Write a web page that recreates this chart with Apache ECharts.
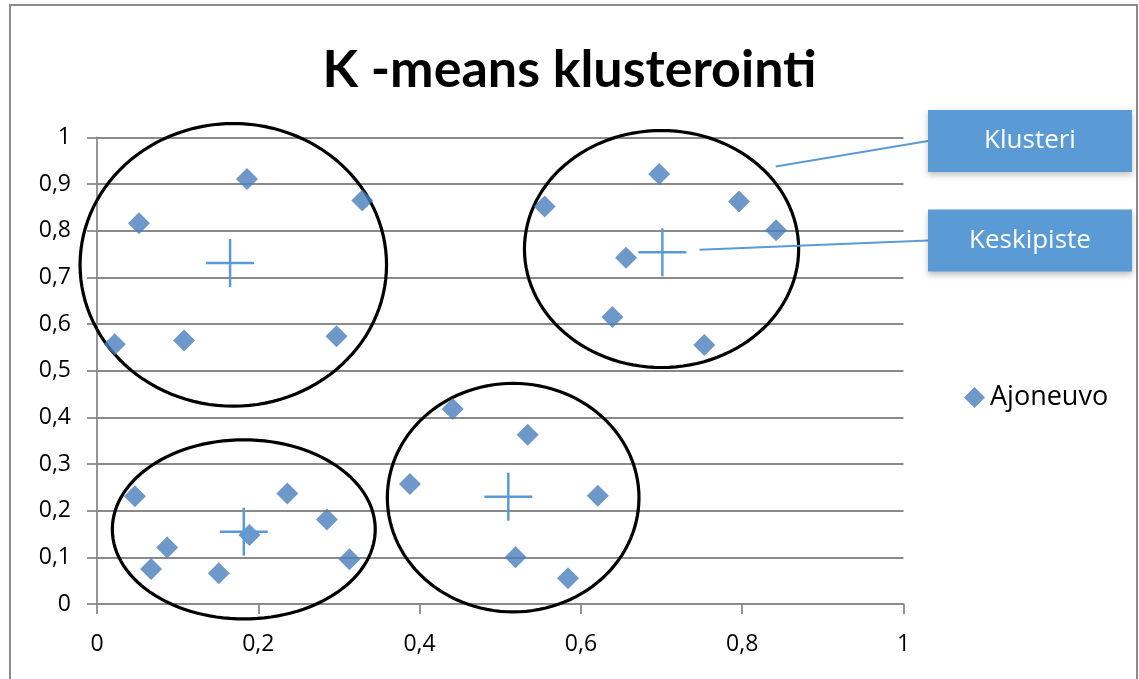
<!DOCTYPE html>
<html>
<head>
<meta charset="utf-8">
<script src="https://cdn.jsdelivr.net/npm/echarts@6/dist/echarts.min.js"></script>
<style>html,body{margin:0;padding:0;background:#fff;}#c{width:1139px;height:679px;}</style>
</head>
<body>
<div id="c"></div>
<script>
// ---- data ----
const pointX = [0.022,0.052,0.108,0.186,0.297,0.329, 0.555,0.697,0.796,0.842,0.656,0.639,0.753, 0.047,0.067,0.087,0.151,0.189,0.236,0.285,0.313, 0.441,0.534,0.388,0.621,0.519,0.584];
const pointY = [0.557,0.816,0.565,0.911,0.574,0.865, 0.852,0.922,0.863,0.801,0.742,0.615,0.555, 0.231,0.075,0.121,0.066,0.148,0.237,0.181,0.096, 0.418,0.363,0.257,0.232,0.100,0.055];
const centerX = [0.165,0.701,0.182,0.510];
const centerY = [0.731,0.754,0.155,0.230];
const clusterCX = [0.169,0.700,0.182,0.516];
const clusterCY = [0.727,0.761,0.160,0.228];
const clusterRX = [0.190,0.170,0.163,0.156];
const clusterRY = [0.303,0.254,0.192,0.245];
const xTicks = [0,0.2,0.4,0.6,0.8,1];
const yTicks = [0,0.1,0.2,0.3,0.4,0.5,0.6,0.7,0.8,0.9,1];
const titleText = 'K -means klusterointi';
const seriesName = 'Ajoneuvo';
const calloutLabels = ['Klusteri','Keskipiste'];

const points = pointX.map((x,i)=>[x,pointY[i]]);
const centers = centerX.map((x,i)=>[x,centerY[i]]);
const clusters = clusterCX.map((x,i)=>[x,clusterCY[i],clusterRX[i],clusterRY[i]]);

const fmt = v => String(+(+v).toFixed(2)).replace('.', ',');
const FONT = 'Open Sans';
const gridColor = '#8a8a8a';

const chart = echarts.init(document.getElementById('c'), null, {renderer:'canvas'});
const option = {
  backgroundColor:'#fff',
  animation:false,
  title:{text:titleText,left:'center',top:39,
    textStyle:{fontFamily:'Lato',fontWeight:'bold',fontSize:52,color:'#000'}},
  grid:{left:97,right:235.5,top:137.5,bottom:75},
  legend:{data:[{name:seriesName,icon:'diamond'}],left:959,top:379,itemWidth:21,itemHeight:21,itemGap:6,
    textStyle:{fontFamily:FONT,fontSize:27,color:'#000'}},
  xAxis:{type:'value',min:0,max:1,interval:0.2,
    axisLine:{show:true,lineStyle:{color:gridColor,width:1.8}},
    axisTick:{show:true,length:10,lineStyle:{color:gridColor,width:1.8}},
    splitLine:{show:false},
    axisLabel:{margin:29,fontFamily:FONT,fontSize:23,color:'#000',formatter:fmt}},
  yAxis:{type:'value',min:0,max:1,interval:0.1,
    axisLine:{show:true,lineStyle:{color:gridColor,width:1.8}},
    axisTick:{show:true,length:10,lineStyle:{color:gridColor,width:1.8}},
    splitLine:{show:true,lineStyle:{color:gridColor,width:1.8}},
    axisLabel:{margin:26,fontFamily:FONT,fontSize:23,color:'#000',formatter:fmt}},
  series:[
    {type:'custom',name:'klusterit',silent:true,data:clusters,z:3,
      renderItem:function(params,api){
        const c = api.coord([api.value(0),api.value(1)]);
        const s = api.size([api.value(2),api.value(3)]);
        const pts=[];
        for(let k=0;k<120;k++){const a=k/120*Math.PI*2;pts.push([c[0]+s[0]*Math.cos(a),c[1]+s[1]*Math.sin(a)]);}
        return {type:'polygon',shape:{points:pts},style:{fill:'none',stroke:'#000',lineWidth:3.2}};
      }},
    {type:'scatter',name:seriesName,data:points,symbol:'diamond',symbolSize:22,z:4,
      itemStyle:{color:'#4a7ebb'}},
    {type:'custom',name:'keskipisteet',silent:true,data:centers,z:5,
      renderItem:function(params,api){
        const c = api.coord([api.value(0),api.value(1)]);
        const h=24;
        return {type:'group',children:[
          {type:'line',shape:{x1:c[0]-h,y1:c[1],x2:c[0]+h,y2:c[1]},style:{stroke:'#5b9bd5',lineWidth:2.5}},
          {type:'line',shape:{x1:c[0],y1:c[1]-h,x2:c[0],y2:c[1]+h},style:{stroke:'#5b9bd5',lineWidth:2.5}}
        ]};
      }}
  ]
};
chart.setOption(option);

// callout annotations anchored to data coordinates
const a1 = chart.convertToPixel({gridIndex:0},[0.8415,0.938]);
const a2 = chart.convertToPixel({gridIndex:0},[0.747,0.7595]);
const boxX=928, boxW=204, boxH=62;
const box1Y=110, box2Y=209.5;
chart.setOption({graphic:[
  {type:'rect',shape:{x:10,y:5,width:1127,height:700},style:{fill:'none',stroke:'#8c8c8c',lineWidth:2},z:0,silent:true},
  {type:'line',shape:{x1:a1[0],y1:a1[1],x2:boxX,y2:box1Y+31},style:{stroke:'#5b9bd5',lineWidth:2},z:10},
  {type:'line',shape:{x1:a2[0],y1:a2[1],x2:boxX,y2:box2Y+31},style:{stroke:'#5b9bd5',lineWidth:2},z:10},
  {type:'rect',shape:{x:boxX,y:box1Y,width:boxW,height:boxH},style:{fill:'#5b9bd5',shadowBlur:6,shadowOffsetY:3,shadowColor:'rgba(0,0,0,0.25)'},z:11},
  {type:'text',x:boxX+boxW/2,y:box1Y+boxH/2,style:{text:calloutLabels[0],fill:'#fff',font:'26px "Open Sans"',textAlign:'center',textVerticalAlign:'middle'},z:12},
  {type:'rect',shape:{x:boxX,y:box2Y,width:boxW,height:boxH},style:{fill:'#5b9bd5',shadowBlur:6,shadowOffsetY:3,shadowColor:'rgba(0,0,0,0.25)'},z:11},
  {type:'text',x:boxX+boxW/2,y:box2Y+boxH/2,style:{text:calloutLabels[1],fill:'#fff',font:'26px "Open Sans"',textAlign:'center',textVerticalAlign:'middle'},z:12}
]});
</script>
</body>
</html>
